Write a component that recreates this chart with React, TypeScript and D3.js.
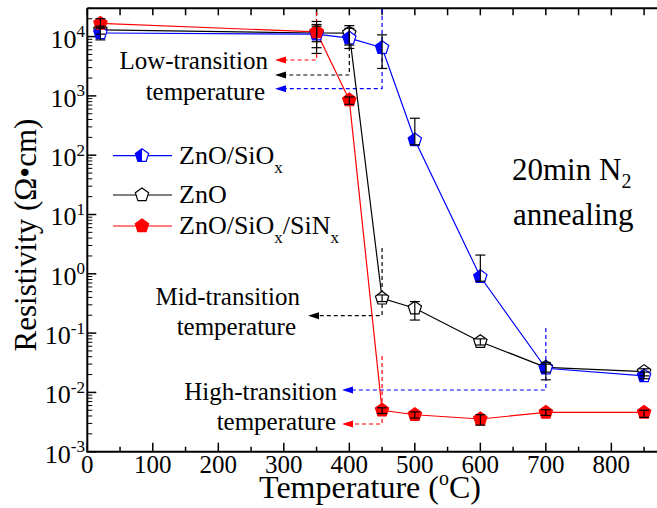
import React from 'react';
import * as d3 from 'd3';

// Annealing temperatures (°C) shared by all three film stacks
const temps = [20, 350, 400, 450, 500, 600, 700, 850];

// ZnO/SiOx
const sioxRho = [1.15e4, 1.1e4, 9.4e3, 6.5e3, 180, 0.89, 0.0255, 0.019];
const sioxLo = [8.8e3, 5.2e3, 7.2e3, 2.9e3, 150, 0.75, 0.0163, 0.017];
const sioxHi = [1.4e4, 1.5e4, 1.38e4, 1.07e4, 420, 2.07, 0.032, 0.022];

// ZnO
const znoRho = [1.3e4, 1.15e4, 1.14e4, 0.386, 0.263, 0.0716, 0.0265, 0.0224];
const znoLo = [1.1e4, 6.5e3, 6.3e3, 0.34, 0.166, 0.063, 0.022, 0.019];
const znoHi = [1.5e4, 1.6e4, 1.53e4, 0.44, 0.34, 0.08, 0.03, 0.025];

// ZnO/SiOx/SiNx
const sinxRho = [1.67e4, 1.2e4, 850, 0.005, 0.0042, 0.00356, 0.0046, 0.0046];
const sinxLo = [1.4e4, 8.2e3, 720, 0.0044, 0.0037, 0.0028, 0.0041, 0.0038];
const sinxHi = [2.0e4, 1.8e4, 960, 0.0055, 0.0047, 0.0042, 0.0051, 0.005];

const xTicks = [0, 100, 200, 300, 400, 500, 600, 700, 800];
const yExps = [-3, -2, -1, 0, 1, 2, 3, 4];

const FONT = 'Liberation Serif';
const BLUE = '#0000ff';
const RED = '#ff0000';

const W = 657;
const H = 508;

const x = d3.scaleLinear().domain([0, 870]).range([87.3, 657.2]);
const y = d3.scaleLog().domain([1e-3, 3e4]).range([451.7, 8.3]);

const R = 7;
const pentPts = d3.range(5).map((k) => {
  const a = ((-90 + k * 72) * Math.PI) / 180;
  return [R * Math.cos(a), R * Math.sin(a)];
});
const pentPath = 'M' + pentPts.map((p) => p.join(',')).join('L') + 'Z';
const halfPath = `M0,${-R}L${pentPts[4][0]},${pentPts[4][1]}L${pentPts[3][0]},${pentPts[3][1]}L0,${pentPts[3][1]}Z`;

type Kind = 'half' | 'open' | 'filled';

function Marker({ cx, cy, color, kind }: { cx: number; cy: number; color: string; kind: Kind }) {
  return (
    <g transform={`translate(${cx},${cy})`}>
      <path d={pentPath} fill={kind === 'filled' ? color : '#fff'} stroke={color} strokeWidth={1.2} />
      {kind === 'half' && <path d={halfPath} fill={color} />}
    </g>
  );
}

const series = [
  { name: 'zno', rho: znoRho, lo: znoLo, hi: znoHi, color: '#000', kind: 'open' as Kind },
  { name: 'siox', rho: sioxRho, lo: sioxLo, hi: sioxHi, color: BLUE, kind: 'half' as Kind },
  { name: 'sinx', rho: sinxRho, lo: sinxLo, hi: sinxHi, color: RED, kind: 'filled' as Kind },
];

const line = d3
  .line<[number, number]>()
  .x((d) => x(d[0]))
  .y((d) => y(d[1]));

function Arrow({ tipX, yy, color }: { tipX: number; yy: number; color: string }) {
  return <path d={`M${tipX},${yy}L${tipX + 11},${yy - 3.5}L${tipX + 11},${yy + 3.5}Z`} fill={color} />;
}

// dashed elbow: vertical drop at a temperature, then horizontal run to an arrow
function Elbow({ t, yTop, yBot, tipX, color }: { t: number; yTop: number; yBot: number; tipX: number; color: string }) {
  const xx = x(t);
  return (
    <g>
      <path
        d={`M${xx},${yTop}L${xx},${yBot}L${tipX + 9},${yBot}`}
        fill="none"
        stroke={color}
        strokeWidth={1.2}
        strokeDasharray="4,3"
      />
      <Arrow tipX={tipX} yy={yBot} color={color} />
    </g>
  );
}

export default function App() {
  const minorY: number[] = [];
  for (let e = -3; e <= 4; e++) {
    for (let m = 2; m <= 9; m++) {
      const v = m * Math.pow(10, e);
      if (v <= 3e4) minorY.push(v);
    }
  }
  const halfTicks = d3.range(0, 870, 50);

  return (
    <svg
      width={W}
      height={H}
      style={{ display: 'block', position: 'absolute', left: 0, top: 0, fontFamily: FONT }}
    >
      <rect width={W} height={H} fill="#fff" />

      {/* axes frame */}
      <path d={`M${x(0)},${y(3e4)}L${x(0)},${y(1e-3)}L${W},${y(1e-3)}`} fill="none" stroke="#000" strokeWidth={2} />
      <line x1={x(0)} x2={W} y1={y(3e4)} y2={y(3e4)} stroke="#000" strokeWidth={2} />

      {/* bottom ticks */}
      {halfTicks.map((t) => (
        <line key={'b' + t} x1={x(t)} x2={x(t)} y1={y(1e-3)} y2={y(1e-3) - (t % 100 === 0 ? 9 : 5)} stroke="#000" strokeWidth={1.5} />
      ))}
      {/* top ticks */}
      {halfTicks.map((t) => (
        <line key={'t' + t} x1={x(t)} x2={x(t)} y1={y(3e4)} y2={y(3e4) + 7} stroke="#000" strokeWidth={1.5} />
      ))}
      {/* left ticks */}
      {yExps.map((e) => (
        <line key={'ym' + e} x1={x(0)} x2={x(0) + 9} y1={y(Math.pow(10, e))} y2={y(Math.pow(10, e))} stroke="#000" strokeWidth={1.5} />
      ))}
      {minorY.map((v, i) => (
        <line key={'yn' + i} x1={x(0)} x2={x(0) + 5} y1={y(v)} y2={y(v)} stroke="#000" strokeWidth={1} />
      ))}

      {/* tick labels */}
      {xTicks.map((t) => (
        <text key={'xl' + t} x={x(t)} y={473} fontSize={25} textAnchor="middle">
          {t}
        </text>
      ))}
      {yExps.map((e) => (
        <text key={'yl' + e} x={85} y={y(Math.pow(10, e)) + 11} fontSize={26} textAnchor="end">
          10
          <tspan fontSize={17} dy={-10.5}>
            {e < 0 ? '-' + Math.abs(e) : e}
          </tspan>
        </text>
      ))}

      {/* axis titles */}
      <text x={370} y={498} fontSize={32} textAnchor="middle">
        Temperature (<tspan fontSize={20} dy={-13}>o</tspan>
        <tspan dy={13}>C)</tspan>
      </text>
      <text transform="translate(36,235) rotate(-90)" fontSize={31} textAnchor="middle">
        Resistivity (Ω•cm)
      </text>

      {/* transition markers */}
      <Elbow t={350} yTop={12} yBot={60} tipX={275} color={RED} />
      <Elbow t={400} yTop={40} yBot={75} tipX={275} color="#000" />
      <Elbow t={450} yTop={9} yBot={88.7} tipX={275} color={BLUE} />
      <Elbow t={450} yTop={248} yBot={315.7} tipX={308} color="#000" />
      <Elbow t={700} yTop={328} yBot={390} tipX={342} color={BLUE} />
      <Elbow t={450} yTop={356} yBot={424} tipX={342} color={RED} />

      <g fontSize={25} textAnchor="end">
        <text x={268} y={69}>Low-transition</text>
        <text x={265} y={100}>temperature</text>
        <text x={300} y={305}>Mid-transition</text>
        <text x={296} y={335}>temperature</text>
        <text x={337} y={400}>High-transition</text>
        <text x={336} y={430}>temperature</text>
      </g>

      <g fontSize={31}>
        <text x={512} y={180}>
          20min N<tspan fontSize={20} dy={8}>2</tspan>
        </text>
        <text x={513} y={225}>annealing</text>
      </g>

      {/* series lines */}
      {series.map((s) => (
        <path
          key={'l' + s.name}
          d={line(temps.map((t, i) => [t, s.rho[i]] as [number, number])) || ''}
          fill="none"
          stroke={s.color}
          strokeWidth={1.2}
        />
      ))}
      {/* markers */}
      {series.map((s) =>
        temps.map((t, i) => <Marker key={s.name + t} cx={x(t)} cy={y(s.rho[i])} color={s.color} kind={s.kind} />)
      )}
      {/* error bars */}
      {series.map((s) =>
        temps.map((t, i) => {
          const xx = x(t);
          const y1 = y(s.lo[i]);
          const y2 = y(s.hi[i]);
          return (
            <g key={'e' + s.name + t} stroke="#000" strokeWidth={1.2}>
              <line x1={xx} x2={xx} y1={y1} y2={y2} />
              <line x1={xx - 5} x2={xx + 5} y1={y1} y2={y1} />
              <line x1={xx - 5} x2={xx + 5} y1={y2} y2={y2} />
            </g>
          );
        })
      )}

      {/* legend */}
      <g>
        <line x1={113} x2={172} y1={155.7} y2={155.7} stroke={BLUE} strokeWidth={1.2} />
        <Marker cx={142} cy={155.7} color={BLUE} kind="half" />
        <text x={179} y={164} fontSize={26}>
          ZnO/SiO<tspan fontSize={17} dy={9}>x</tspan>
        </text>
        <line x1={113} x2={172} y1={195} y2={195} stroke="#000" strokeWidth={1.2} />
        <Marker cx={142} cy={195} color="#000" kind="open" />
        <text x={179} y={203} fontSize={26}>
          ZnO
        </text>
        <line x1={113} x2={172} y1={226} y2={226} stroke={RED} strokeWidth={1.2} />
        <Marker cx={142} cy={226} color={RED} kind="filled" />
        <text x={179} y={234} fontSize={26}>
          ZnO/SiO<tspan fontSize={17} dy={9}>x</tspan>
          <tspan dy={-9}>/SiN</tspan>
          <tspan fontSize={17} dy={9}>x</tspan>
        </text>
      </g>
    </svg>
  );
}
